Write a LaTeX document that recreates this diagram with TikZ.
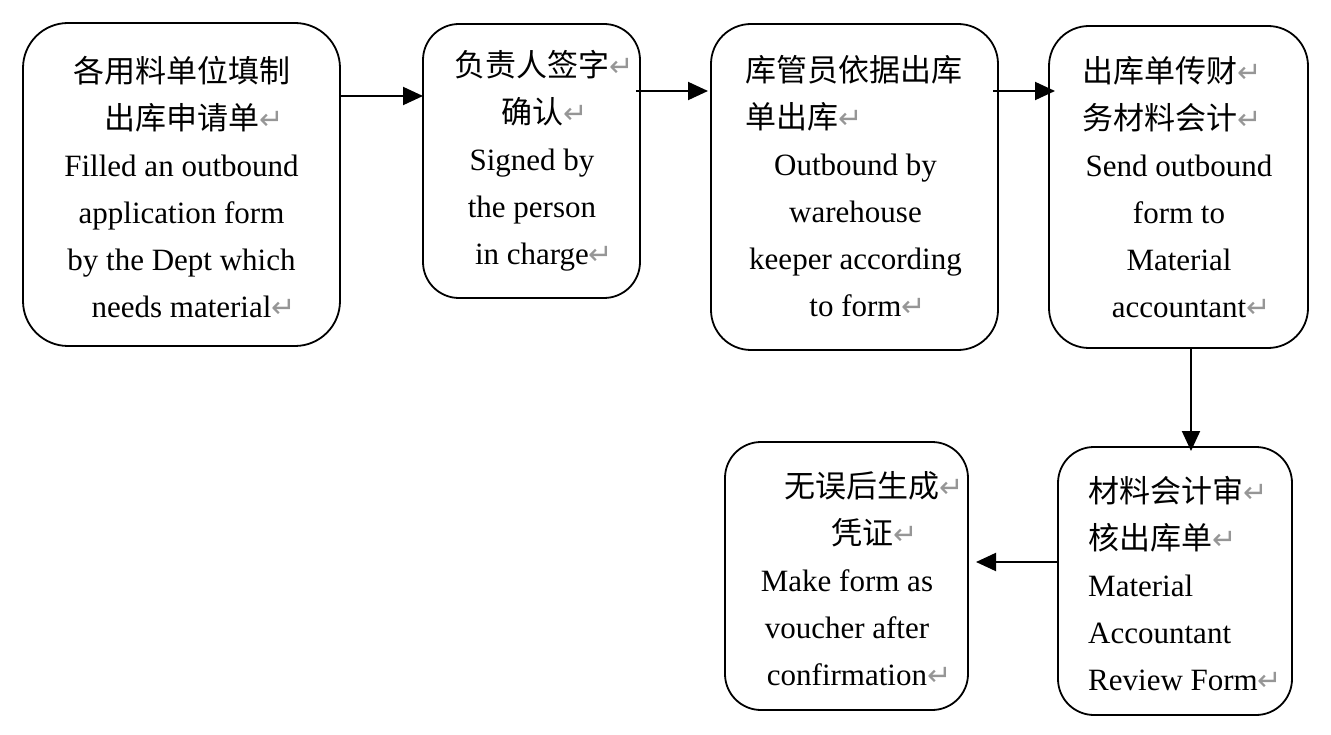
\documentclass[tikz,border=0pt]{standalone}
\usepackage{fontspec}
\usetikzlibrary{arrows.meta}
\setmainfont{Liberation Serif}
\newfontfamily\cjkf{Noto Sans CJK SC}
\newfontfamily\symf{DejaVu Sans}
\definecolor{retgray}{RGB}{150,150,150}
\newcommand\zh[1]{{\cjkf #1}}
\newcommand\retmark{\rlap{\textcolor{retgray}{\symf\fontsize{29}{29}\selectfont ↵}}}
\begin{document}
\begin{tikzpicture}[x=1pt,y=-1pt,
  box/.style={draw, line width=1.8pt, inner sep=0pt, outer sep=0pt},
  txt/.style={font=\fontsize{31}{47}\selectfont, align=center, inner sep=0pt},
  arr/.style={line width=2pt, -{Triangle[length=20pt,width=18pt]}}]
\useasboundingbox (0,0) rectangle (1331,735);
% boxes
\node[box, minimum width=317pt, minimum height=323pt, rounded corners=45pt] (b1) at (181.5,184.5) {};
\node[box, minimum width=217pt, minimum height=274pt, rounded corners=36pt] (b2) at (531.5,161) {};
\node[box, minimum width=287pt, minimum height=326pt, rounded corners=40pt] (b3) at (854.5,187) {};
\node[box, minimum width=259pt, minimum height=322pt, rounded corners=40pt] (b4) at (1178.5,187) {};
\node[box, minimum width=234pt, minimum height=268pt, rounded corners=36pt] (b5) at (1175,581) {};
\node[box, minimum width=243pt, minimum height=268pt, rounded corners=36pt] (b6) at (846.5,576) {};
% texts
\node[txt] (t1) at (181.5,187) {\zh{各用料单位填制}\\ \zh{出库申请单}\retmark\\ Filled an outbound\\ application form\\ by the Dept which\\ needs material\retmark};
\node[txt] (t2) at (532,161) {\zh{负责人签字}\retmark\\ \zh{确认}\retmark\\ Signed by\\ the person\\ in charge\retmark};
\node[txt] (t3) at (855.5,186.5) {\makebox[221pt][l]{\zh{库管员依据出库}}\\ \makebox[221pt][l]{\zh{单出库}\retmark}\\ Outbound by\\ warehouse\\ keeper according\\ to form\retmark};
\node[txt] (t4) at (1179,187) {\makebox[194pt][l]{\zh{出库单传财}\retmark}\\ \makebox[194pt][l]{\zh{务材料会计}\retmark}\\ Send outbound\\ form to\\ Material\\ accountant\retmark};
\node[txt, align=left, anchor=west] (t5) at (1088,584) {\zh{材料会计审}\retmark\\ \zh{核出库单}\retmark\\ Material\\ Accountant\\ Review Form\retmark};
\node[txt] (t6) at (847,579) {\hspace*{30pt}\zh{无误后生成}\retmark\\ \hspace*{30pt}\zh{凭证}\retmark\\ Make form as\\ voucher after\\ confirmation\retmark};
% arrows
\draw[arr] (b1.east |- 0,96) -- (b2.west |- 0,96);
\draw[arr] ([xshift=-4pt]b2.east |- 0,91) -- ([xshift=-3pt]b3.west |- 0,91);
\draw[arr] ([xshift=-5pt]b3.east |- 0,91) -- ([xshift=6pt]b4.west |- 0,91);
\draw[arr] (b4.south -| 1191,0) -- ([yshift=-4pt]b5.north -| 1191,0);
\draw[arr] (b5.west |- 0,562) -- ([xshift=8pt]b6.east |- 0,562);
\end{tikzpicture}
\end{document}
